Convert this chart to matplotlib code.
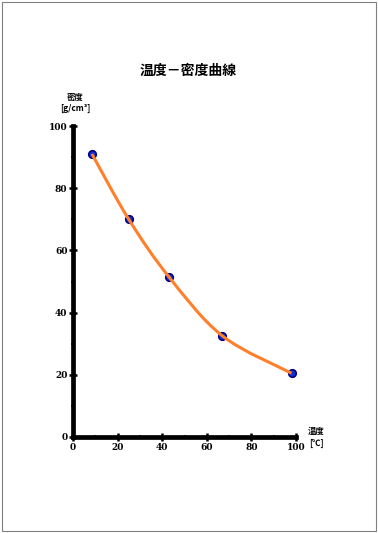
import numpy as np
import matplotlib.pyplot as plt
from matplotlib.path import Path
from matplotlib.patches import PathPatch, Rectangle
from matplotlib.ticker import MultipleLocator

plt.rcParams['font.family'] = ['Noto Sans CJK JP', 'DejaVu Sans']

# data
temp = [8.5, 25.0, 43.0, 67.0, 98.0]
density = [91.0, 70.0, 51.5, 32.5, 20.5]
xticks = [0, 20, 40, 60, 80, 100]
yticks = [0, 20, 40, 60, 80, 100]

W, H = 378, 533
fig = plt.figure(figsize=(W / 100, H / 100), dpi=100)
fig.patch.set_facecolor('white')

# page frame
fig.patches.append(Rectangle((2 / W, 2 / H), 374 / W, 529 / H, transform=fig.transFigure,
                             fill=False, ec='#808080', lw=0.8))

ax = fig.add_axes([73 / W, 1 - 437 / H, 223 / W, 311 / H])
ax.set_xlim(0, 100)
ax.set_ylim(0, 100)
for s in ['top', 'right']:
    ax.spines[s].set_visible(False)
for s in ['left', 'bottom']:
    ax.spines[s].set_linewidth(3.4)

ax.xaxis.set_minor_locator(MultipleLocator(10))
ax.yaxis.set_minor_locator(MultipleLocator(10))
ax.tick_params(which='major', direction='inout', length=6, width=1.8, pad=1)
ax.tick_params(which='minor', direction='inout', length=3, width=1.2)
ax.set_xticks(xticks)
ax.set_yticks(yticks)
ax.set_xticklabels([str(v) for v in xticks], fontsize=6.5, fontweight='bold', family='DejaVu Serif')
ax.set_yticklabels([str(v) for v in yticks], fontsize=6.5, fontweight='bold', family='DejaVu Serif')

# smooth curve through the points (Catmull-Rom as cubic Bezier)
pts = np.column_stack([temp, density])
verts = [pts[0]]
codes = [Path.MOVETO]
n = len(pts)
for i in range(n - 1):
    p0 = pts[i - 1] if i > 0 else pts[i]
    p1, p2 = pts[i], pts[i + 1]
    p3 = pts[i + 2] if i + 2 < n else pts[i + 1]
    c1 = p1 + (p2 - p0) / 6.0
    c2 = p2 - (p3 - p1) / 6.0
    verts += [c1, c2, p2]
    codes += [Path.CURVE4] * 3
ax.plot(temp, density, ls='none', marker='o', ms=5.5, mfc='#1030d0', mec='#000080', mew=1.1,
        zorder=3)
ax.add_patch(PathPatch(Path(verts, codes), fill=False, ec='#ff7f2a', lw=2.2, zorder=4,
                       capstyle='butt'))

fig.text(188 / W, 1 - 71 / H, '温度－密度曲線', ha='center', va='center', fontsize=10,
         fontweight='bold')
fig.text(75 / W, 1 - 97 / H, '密度', ha='center', va='center', fontsize=6, fontweight='bold')
fig.text(75 / W, 1 - 108 / H, '[g/cm³]', ha='center', va='center', fontsize=6,
         fontweight='bold')
fig.text(316 / W, 1 - 431 / H, '温度', ha='center', va='center', fontsize=6, fontweight='bold')
fig.text(316 / W, 1 - 443 / H, '[℃]', ha='center', va='center', fontsize=6, fontweight='bold')

fig.savefig('out.png', dpi=100)
